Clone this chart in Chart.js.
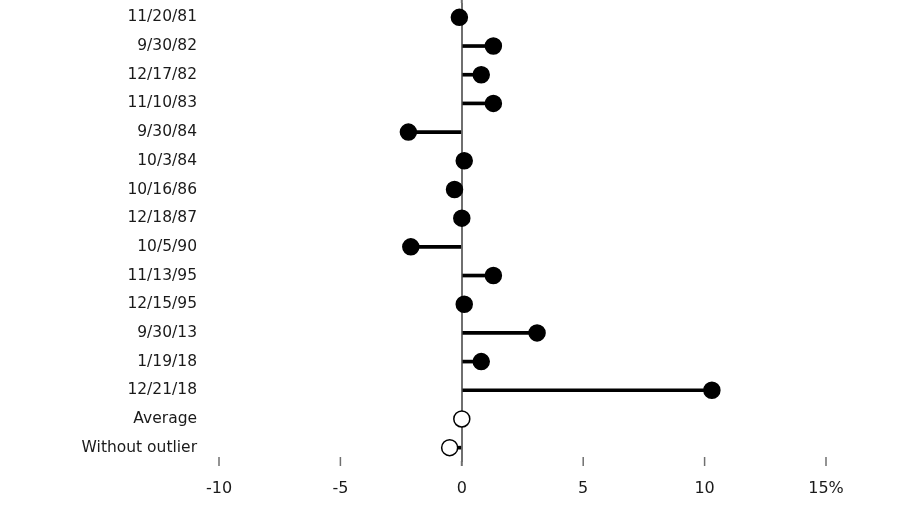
<!DOCTYPE html>
<html>
<head>
<meta charset="utf-8">
<script src="https://cdn.jsdelivr.net/npm/chart.js@4/dist/chart.umd.min.js"></script>
<style>
  html, body { margin: 0; padding: 0; background: #fff; }
  #wrap { width: 900px; height: 510px; position: relative; }
</style>
</head>
<body>
<div id="wrap"><canvas id="myChart"></canvas></div>
<script>
// 날짜별 값 (%)
var arr_dates = ['11/20/81', '9/30/82', '12/17/82', '11/10/83', '9/30/84', '10/3/84', '10/16/86',
    '12/18/87', '10/5/90', '11/13/95', '12/15/95', '9/30/13', '1/19/18', '12/21/18',
    'Average', 'Without outlier'];
var arr_values = [-0.1, 1.3, 0.8, 1.3, -2.2, 0.1, -0.3, 0.0, -2.1, 1.3, 0.1, 3.1, 0.8, 10.3, 0.0, -0.5];
var arr_open = [false, false, false, false, false, false, false, false, false, false, false, false, false, false, true, true];
var arr_ticks = [-10, -5, 0, 5, 10, 15];

// 막대는 0 부터 값까지
var arr_stems = arr_values.map(function (v) { return [0, v]; });
var arr_fill = arr_open.map(function (o) { return o ? '#ffffff' : '#000000'; });

// x축 눈금 표시 + 0선 위쪽 연장
var tickMarks = {
    id: 'tickMarks',
    beforeDatasetsDraw: function (chart) {
        var ctx = chart.ctx;
        var xs = chart.scales.x;
        var top = chart.chartArea.top;
        var bottom = chart.chartArea.bottom;
        ctx.save();
        ctx.strokeStyle = '#6f6f6f';
        arr_ticks.forEach(function (t) {
            var px = xs.getPixelForValue(t);
            ctx.lineWidth = t === 0 ? 2 : 1.5;
            ctx.beginPath();
            if (t === 0) {
                ctx.moveTo(px, 0);
                ctx.lineTo(px, top);
                ctx.moveTo(px, bottom - 1);
            } else {
                ctx.moveTo(px, bottom - 5);
            }
            ctx.lineTo(px, bottom + 4);
            ctx.stroke();
        });
        ctx.restore();
    }
};

var ctx = document.getElementById('myChart').getContext('2d');
var myChart = new Chart(ctx, {
    type: 'bar',
    data: {
        labels: arr_dates,
        datasets: [{
            type: 'line',
            indexAxis: 'y',
            data: arr_values,
            showLine: false,
            pointRadius: 8,
            pointHoverRadius: 8,
            pointBackgroundColor: arr_fill,
            pointBorderColor: '#000000',
            pointBorderWidth: 1.5,
            order: 0,
            clip: false
        }, {
            data: arr_stems,
            backgroundColor: '#000000',
            barThickness: 3,
            order: 1
        }]
    },
    plugins: [tickMarks],
    options: {
        indexAxis: 'y',
        responsive: true,
        maintainAspectRatio: false,
        animation: false,
        layout: { autoPadding: false, padding: { left: 77, right: 74, top: 3, bottom: 0 } },
        plugins: {
            legend: { display: false },
            tooltip: { enabled: false }
        },
        scales: {
            x: {
                min: -10,
                max: 15,
                afterFit: function (scale) { scale.height = 48; },
                afterBuildTicks: function (scale) {
                    scale.ticks = arr_ticks.map(function (v) { return { value: v }; });
                },
                border: { display: false },
                grid: {
                    drawTicks: false,
                    color: function (c) { return c.tick && c.tick.value === 0 ? '#6f6f6f' : 'rgba(0,0,0,0)'; },
                    lineWidth: 2
                },
                ticks: {
                    padding: 17,
                    color: '#1a1a1a',
                    font: { family: 'DejaVu Sans', size: 16 },
                    callback: function (v) { return v === 15 ? '15%' : String(v); }
                }
            },
            y: {
                afterFit: function (scale) {
                    scale.width = 142;
                    scale.paddingTop = 0;
                    scale.paddingBottom = 0;
                },
                border: { display: false },
                grid: { display: false, drawTicks: false },
                ticks: {
                    padding: 22,
                    color: '#1a1a1a',
                    font: { family: 'DejaVu Sans', size: 15.5 }
                }
            }
        }
    }
});
</script>
</body>
</html>
